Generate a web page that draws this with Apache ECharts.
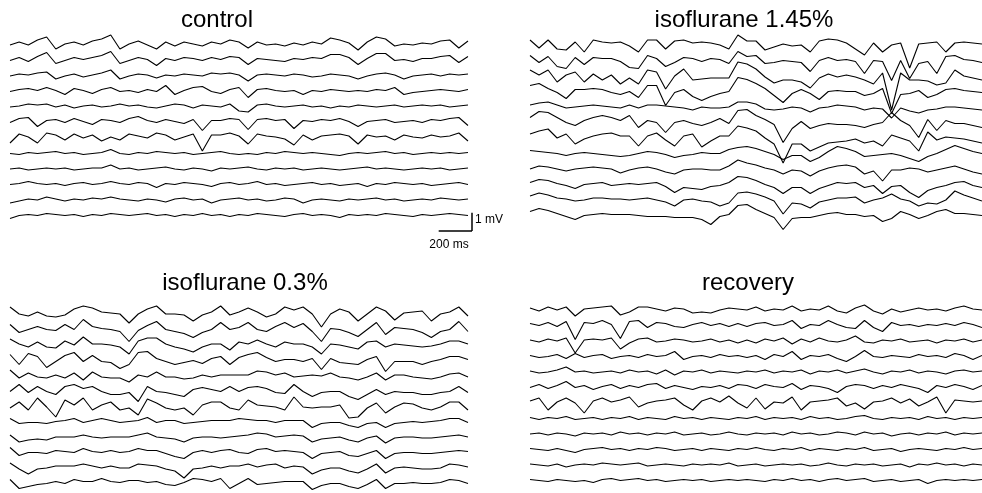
<!DOCTYPE html>
<html><head><meta charset="utf-8">
<script src="https://cdn.jsdelivr.net/npm/echarts@6/dist/echarts.min.js"></script>
<style>html,body{margin:0;padding:0;background:#fff}#c{width:982px;height:493px}</style>
</head><body><div id="c"></div>
<script>
// sample interval of every trace (ms) and amplitude unit of the arrays below (mV per unit)
const SAMPLE_MS = 55;
const UNIT_MV = 0.055;

const panelTitles = ['control', 'isoflurane 1.45%', 'isoflurane 0.3%', 'recovery'];

const controlTraces = [
[0,3,0,5,8,-4,1,3,0,4,6,10,-4,1,4,0,-4,3,-1,3,1,-1,3,1,5,3,-3,3,0,1,-1,2,0,3,1,7,5,2,-5,3,8,6,-1,1,0,2,1,4,5,-3,4],
[0,3,-1,4,8,-3,0,3,1,3,5,9,-3,0,3,1,-5,2,0,3,2,0,3,1,4,3,-4,2,1,0,-1,2,1,3,2,6,6,3,-4,2,7,7,0,1,-1,2,2,4,5,-2,4],
[0,2,1,3,4,-3,0,2,-1,1,3,6,-3,0,2,1,-2,1,0,2,1,0,3,2,3,1,-5,1,2,1,0,2,1,-1,0,2,1,0,-3,0,2,3,1,-3,0,1,2,0,2,1,2],
[0,2,3,1,4,1,-3,3,1,-2,2,4,0,1,-1,2,0,6,-3,1,4,5,0,-2,2,4,-6,2,3,1,0,1,-3,1,0,2,1,0,1,0,2,1,4,-3,-1,0,1,2,1,0,2],
[0,1,3,2,3,0,2,-1,1,2,0,1,3,1,2,0,-1,1,3,2,-1,2,1,0,3,-4,-5,2,3,1,0,1,2,0,1,-1,1,0,2,1,0,1,2,0,1,2,1,2,0,1,2],
[0,4,5,-4,2,3,0,4,1,-2,3,2,0,4,6,2,0,3,1,-1,3,-8,2,2,4,3,-7,3,4,2,3,-6,2,1,3,2,4,1,-4,1,2,3,0,1,2,0,3,2,4,5,-3],
[-5,4,1,-5,5,3,-2,4,0,3,-3,1,-2,4,2,0,5,3,-2,1,4,-13,3,3,5,2,-6,4,2,1,-1,-7,3,-2,2,3,4,2,-6,3,1,2,-2,3,1,0,3,1,2,5,-3],
[0,-1,1,0,1,2,0,1,-1,0,1,4,0,-1,1,0,2,1,0,1,-1,0,1,2,0,-1,0,-1,1,0,2,1,0,1,0,-1,-2,0,1,0,1,2,0,1,-1,0,1,0,1,0,1],
[0,1,-1,0,1,0,1,-1,0,1,1,4,0,1,-1,0,1,2,0,-1,1,0,-2,1,0,1,2,0,-1,1,0,1,-1,0,1,0,-1,0,1,2,0,1,0,-1,0,1,0,1,-1,0,1],
[0,1,3,1,0,1,-1,1,2,0,1,3,1,0,2,1,-3,1,0,2,1,0,-2,1,2,0,1,3,0,1,-1,0,1,2,0,1,-1,0,1,-2,1,0,2,1,0,1,-1,0,1,2,0],
[-3,-1,1,0,3,1,-1,1,0,2,1,3,1,0,-1,1,0,-2,1,2,0,1,-3,0,1,2,0,1,-1,0,2,1,-3,0,1,0,-1,1,0,1,2,0,1,-1,0,1,0,2,1,0,1],
[-3,0,1,0,2,1,0,1,-1,1,0,2,1,0,1,2,0,1,-1,1,0,2,0,1,-1,1,0,2,1,0,-1,1,2,0,1,0,-2,1,0,1,0,2,1,0,-1,1,0,1,2,1,0]
];

const iso145Traces = [
[3,-5,3,-6,-7,1,-9,3,1,0,1,-3,-9,3,3,-6,2,3,0,1,0,-2,-6,8,2,2,-7,-4,-1,-3,-2,-9,2,4,3,0,-6,-12,0,-9,-2,0,-25,-1,0,1,-9,0,1,0,-1],
[3,-4,2,-8,-10,1,-6,1,0,0,-3,-9,-10,3,0,-8,-4,1,0,-3,0,-1,-5,7,2,3,-5,-4,-2,-3,-4,-13,-2,1,-2,-1,-3,-15,-2,-3,-22,-2,-20,-5,-3,-15,2,3,-1,-2,-4],
[4,-1,4,-8,-1,2,-8,0,-6,-1,-10,-4,-10,4,2,-15,-2,5,-6,-5,-4,-4,-4,12,10,5,-3,-9,-6,-6,-8,-14,-4,0,-3,-1,-3,-6,-10,1,-36,1,-6,-6,-7,-11,-9,4,-2,-4,-6],
[4,6,1,-3,-9,0,0,1,0,-3,-5,-2,-8,4,4,-16,-3,0,-7,-11,-7,-4,-2,12,10,6,1,-6,-13,-4,0,-4,-10,-2,-1,-2,-2,-6,-4,1,-24,-5,-4,-1,-8,-5,0,1,-1,-2,-3],
[0,2,3,0,-3,-2,-1,0,-1,-2,-3,0,-3,0,0,-1,-2,-3,-5,-2,-3,-3,-2,3,3,1,-4,-5,-4,-2,-3,-7,-3,-2,0,-1,-2,-5,-3,-4,-13,-3,-6,-8,-5,-4,-2,-2,-3,-4,-5],
[3,9,8,3,-2,-5,0,3,5,3,0,5,-7,0,-2,-12,-2,0,-3,-5,-2,2,-3,10,11,5,1,-4,-22,-8,-1,-8,-5,-3,-4,-4,-5,-7,-4,-2,8,0,-5,-17,1,-10,0,-3,-3,-5,-7],
[2,5,7,-2,2,-8,-3,0,2,3,0,0,-10,0,3,-4,-10,0,2,-11,-5,0,0,10,8,5,-2,-8,-27,-8,-8,-15,-11,-7,-6,-5,-3,-7,-5,-10,1,-2,-5,-15,4,-4,-1,-2,-3,-5,-7],
[1,0,-1,-2,-4,-2,-1,-2,-3,-4,-5,-4,-2,0,-1,-3,-6,-4,-3,-1,-2,-2,2,4,5,3,0,-3,-8,-4,-4,-10,-6,0,5,3,0,-5,-4,-3,-2,-4,-7,-10,-5,-2,2,6,3,0,-2],
[-2,1,0,-2,-4,-2,-1,0,-1,-2,-6,-3,-1,0,-2,-5,-7,-3,-2,-2,-3,-3,1,7,4,2,-1,-3,-7,-3,-4,-9,-4,-1,1,2,0,-7,-4,-14,-3,-3,-1,-2,-5,-3,-1,1,-2,-5,-7],
[0,3,2,-1,-3,-6,-2,-1,0,-3,-2,-1,-2,-1,0,-4,-10,-5,-6,-7,-4,-3,0,6,5,2,-2,-5,-11,-5,-5,-11,-6,-3,0,-1,0,-5,-3,-11,-4,-3,-10,-15,-8,-5,-3,0,1,-3,-5],
[2,5,3,0,-1,-3,-2,0,0,-1,-1,-2,-1,0,-2,-4,-8,-2,-1,-3,-4,-8,-5,5,6,4,1,-3,-16,-5,-6,-10,-4,-2,0,0,1,-5,-2,0,4,-1,-3,-8,-5,-6,-2,7,3,0,-3],
[2,5,3,0,-3,-6,-2,-1,0,-1,-1,-1,-2,-3,-3,-3,-4,-4,-4,-6,-11,-3,-1,8,9,4,0,-4,-16,-5,-4,-4,-2,0,1,-1,-1,-3,-2,-8,-5,2,-1,-5,-2,2,4,0,0,-1,-2]
];

const iso03Traces = [
[5,-2,-4,0,-4,-5,-3,3,6,4,0,-1,-2,-11,-2,3,6,-2,-2,-3,-9,-3,0,6,-3,0,4,0,-5,-2,5,2,5,-2,-15,-2,3,0,-9,-2,5,1,-8,-1,0,1,-9,-2,0,5,-4],
[3,-5,-2,1,-2,-3,3,-2,8,1,-1,-2,-4,-14,-3,2,6,-2,-4,-6,-10,-5,-2,5,-2,0,5,-2,-4,1,5,0,4,-4,-14,-1,-2,-5,-9,-2,5,-7,0,-1,-2,-5,-10,-4,-2,6,-4],
[4,-1,-4,1,-4,-5,2,-2,6,-1,-1,-2,-4,-11,2,5,5,-1,-4,-6,-9,-4,-1,-1,-7,1,-1,3,-1,-4,1,-1,-1,-4,-11,-1,-2,-4,-6,1,2,-4,-1,-2,-3,-4,-3,-1,2,2,-1],
[4,-6,5,2,-9,-3,3,6,-3,3,-3,-4,-10,-6,6,7,0,-3,-6,-4,-2,-5,0,2,-6,1,4,6,1,-3,-1,-1,-3,0,-11,0,-4,-5,-6,-1,2,-13,-3,-3,-3,-6,-3,-1,2,2,-1],
[4,-4,1,-3,-4,-1,-4,1,-6,2,-3,-4,-4,-8,-1,-3,2,-3,-3,-5,-4,-1,-3,-1,-1,-1,-1,3,2,-1,1,-3,-2,-1,-2,1,-3,-4,-6,-3,1,-6,-1,-1,-3,-4,-5,-3,0,1,-3],
[-2,5,-3,3,-2,-5,3,5,1,3,-2,-5,-5,-3,-12,3,-2,-3,-5,-7,0,2,0,-2,3,-2,2,3,1,-3,-4,5,-2,-7,-3,-2,-2,-7,-10,-5,0,-5,-2,-3,-3,-5,-5,-3,-2,3,-3],
[-3,3,-5,7,-2,-12,5,0,7,-5,0,3,-5,-3,-10,6,2,-3,-5,-3,-10,0,3,3,-3,-5,5,0,-1,-2,-5,8,-2,-3,-2,-2,0,-13,-12,-3,2,-8,-2,2,1,-3,-5,-2,3,3,-5],
[2,-3,-2,-2,-3,-1,0,2,-2,0,2,0,-2,-1,0,3,-2,0,0,-3,-2,-1,0,0,0,2,1,0,0,-2,0,0,0,-7,-3,-2,-2,-5,-7,-3,-2,-7,-3,-2,-1,-2,-1,0,2,2,-2],
[1,-6,-4,-3,-4,-1,-1,-1,1,-1,-2,-1,-1,-1,1,3,-1,-2,-3,-6,-2,-1,-1,-2,-1,0,1,3,2,-1,0,1,0,-6,-3,-2,-1,-4,-6,-2,0,-7,-2,-1,-1,-2,-2,-1,0,1,-1],
[4,-4,-1,-1,-2,1,0,-1,3,0,-1,1,-1,0,3,1,1,-2,-5,-7,-1,1,-1,1,2,-1,-2,2,3,0,1,0,-1,-7,-2,-1,0,-4,-5,-2,1,-7,-2,-1,-1,-2,-2,-1,0,1,0],
[4,-2,-7,-2,-1,1,1,1,3,1,-1,1,-1,-1,3,2,1,-2,-4,-11,-2,-1,1,-1,1,1,3,0,2,3,-1,1,0,-7,-3,-1,-1,-4,-6,-2,3,-6,-1,0,-1,-2,-2,-1,3,2,0],
[3,-6,-4,-2,-1,1,-1,3,1,1,4,1,0,2,2,0,1,-2,-3,0,4,3,1,4,-6,-1,4,-2,-1,0,1,1,1,-7,-3,-1,-1,-4,-6,-2,3,-6,-1,-1,0,-1,-1,0,3,2,-1]
];

const recoveryTraces = [
[2,-1,3,0,3,-6,1,2,3,4,-5,-2,3,3,1,-1,2,1,-3,-2,-3,0,2,1,0,3,-1,1,0,4,-1,1,0,4,-1,-3,2,5,-1,-4,1,-2,0,2,0,1,-1,2,4,1,0],
[2,0,3,-1,4,-14,3,2,5,1,-13,4,5,-2,3,2,-1,-2,1,3,0,2,-1,2,-1,2,3,0,1,5,-3,1,0,5,1,-2,-3,5,-2,-6,3,0,1,-1,1,0,2,0,3,1,-2],
[1,-1,2,0,3,-12,1,2,1,3,-8,-2,2,3,-1,0,2,1,-1,0,2,-1,1,-2,1,-2,2,0,3,-3,2,-1,3,0,-1,1,5,-1,-2,1,0,2,-1,0,1,-2,1,0,2,-1,1],
[1,-1,0,2,-2,3,-1,1,2,-2,0,1,-1,2,0,1,5,-3,0,1,-1,2,0,1,-1,1,-3,2,0,5,-3,1,0,2,-2,-5,0,6,0,-1,1,0,-1,2,0,1,-1,3,1,-3,1],
[1,-1,0,2,5,0,1,-1,0,1,-1,2,0,1,-2,2,-3,1,0,2,-1,1,0,-1,1,0,2,-1,1,0,2,-2,1,0,2,-1,1,3,0,-2,1,0,2,-1,1,0,-2,1,2,0,1],
[0,3,-1,2,6,0,2,-2,1,3,-1,2,0,3,4,-1,2,0,-2,1,0,2,-1,3,2,-1,3,1,0,4,-2,2,1,-1,-5,1,3,2,-1,2,0,3,1,-1,-5,2,0,3,1,-2,2],
[2,5,-7,1,5,0,-10,2,5,1,3,6,-4,0,2,3,5,-2,-7,2,5,1,7,0,-5,5,-6,1,0,6,-7,1,2,3,5,-3,0,-6,1,2,5,0,4,-3,1,6,-10,3,2,1,2],
[1,-1,1,0,2,-1,0,1,-1,1,0,2,-1,1,0,-1,2,0,1,-1,1,0,-1,1,0,2,-1,1,0,1,-1,2,0,1,-1,0,2,3,0,-1,1,0,1,-1,2,0,1,-1,1,0,1],
[0,1,-1,1,0,-2,1,0,1,-1,2,0,1,-1,1,0,2,-1,0,1,-1,0,2,0,-1,1,0,1,-1,2,0,1,-1,0,2,1,-1,2,0,1,-2,0,1,-1,1,0,2,-1,1,0,1],
[1,0,-1,1,-1,-3,0,1,2,0,1,-1,1,0,2,1,-1,0,1,-1,1,0,-1,1,0,2,0,-1,1,0,2,-1,1,0,-1,1,0,2,-1,0,1,-2,0,1,0,-1,1,0,2,0,1],
[1,0,-1,1,-2,0,1,0,2,1,0,1,2,-1,0,1,0,-1,1,0,1,0,2,-1,0,1,-1,0,1,0,1,-1,0,2,0,-1,1,0,1,-1,0,1,-2,1,0,2,0,1,-1,1,0],
[1,0,-1,1,0,-1,0,-2,1,2,0,1,2,0,1,-1,0,1,0,1,-1,0,1,0,1,0,-1,1,0,2,0,1,-1,1,2,0,1,2,-1,0,1,-1,0,1,-3,0,1,0,1,0,1]
];

// calibration bar
const scaleBarMs = 200;
const scaleBarMv = 1;
const scaleBarLabels = ['1 mV', '200 ms'];

// ---------- layout ----------
const SPACING_MV = 0.8525;       // vertical offset between stacked traces
const Y_MAX = 1.1, Y_MIN = -9.9; // 200 px tall grids
const layout = [
  {left: 10,  width: 458, top: 25,  tx: 217, ty: 20},
  {left: 530, width: 452, top: 23,  tx: 744, ty: 20},
  {left: 10,  width: 458, top: 292, tx: 245, ty: 283},
  {left: 530, width: 452, top: 290, tx: 748, ty: 283}
];
const allTraces = [controlTraces, iso145Traces, iso03Traces, recoveryTraces];

const grids = [], xAxes = [], yAxes = [], series = [], graphics = [];
allTraces.forEach((traces, gi) => {
  const L = layout[gi];
  const n = traces[0].length;
  grids.push({left: L.left, top: L.top, width: L.width, height: 200, containLabel: false});
  xAxes.push({gridIndex: gi, type: 'value', min: 0, max: (n - 1) * SAMPLE_MS, show: false});
  yAxes.push({gridIndex: gi, type: 'value', min: Y_MIN, max: Y_MAX, show: false});
  traces.forEach((tr, k) => {
    series.push({
      type: 'line', xAxisIndex: gi, yAxisIndex: gi, showSymbol: false, symbol: 'none',
      silent: true, clip: false, animation: false,
      lineStyle: {color: '#000', width: 1.1},
      data: tr.map((v, i) => [i * SAMPLE_MS, v * UNIT_MV - k * SPACING_MV])
    });
  });
  graphics.push({type: 'text', x: L.tx, y: L.ty,
    style: {text: panelTitles[gi], font: '24px "Liberation Sans", Arial, sans-serif', fill: '#000',
            align: 'center', verticalAlign: 'middle', textAlign: 'center', textVerticalAlign: 'middle'}});
});

// scale bar: its own small grid with the same ms/px and mV/px scale as the control panel
const msPerPx = (controlTraces[0].length - 1) * SAMPLE_MS / layout[0].width;
const mvPerPx = (Y_MAX - Y_MIN) / 200;
const sbGrid = {left: 400, top: 200, width: 100, height: 40};
const sbIndex = grids.length;
grids.push(Object.assign({containLabel: false}, sbGrid));
xAxes.push({gridIndex: sbIndex, type: 'value', min: 0, max: sbGrid.width * msPerPx, show: false});
yAxes.push({gridIndex: sbIndex, type: 'value', min: 0, max: sbGrid.height * mvPerPx, show: false});
const barEndMs = 72 * msPerPx;          // right end of bar, 72 px into the small grid
const barBaseMv = 9 * mvPerPx;          // bottom of bar, 9 px above small-grid bottom
series.push({
  type: 'line', xAxisIndex: sbIndex, yAxisIndex: sbIndex, showSymbol: false, symbol: 'none', silent: true,
  lineStyle: {color: '#000', width: 1.5},
  data: [[barEndMs - scaleBarMs, barBaseMv], [barEndMs, barBaseMv]]
});
series.push({
  type: 'line', xAxisIndex: sbIndex, yAxisIndex: sbIndex, showSymbol: false, symbol: 'none', silent: true,
  lineStyle: {color: '#000', width: 1.5},
  data: [[barEndMs, barBaseMv], [barEndMs, barBaseMv + scaleBarMv]]
});
graphics.push({type: 'text', x: 475, y: 220,
  style: {text: scaleBarLabels[0], font: '12px "Liberation Sans", Arial, sans-serif', fill: '#000',
          align: 'left', verticalAlign: 'middle', textAlign: 'left', textVerticalAlign: 'middle'}});
graphics.push({type: 'text', x: 449, y: 245,
  style: {text: scaleBarLabels[1], font: '12px "Liberation Sans", Arial, sans-serif', fill: '#000',
          align: 'center', verticalAlign: 'middle', textAlign: 'center', textVerticalAlign: 'middle'}});

const chart = echarts.init(document.getElementById('c'), null, {renderer: 'canvas'});
chart.setOption({
  animation: false,
  backgroundColor: '#fff',
  grid: grids, xAxis: xAxes, yAxis: yAxes, series: series, graphic: graphics
});
</script>
</body></html>
